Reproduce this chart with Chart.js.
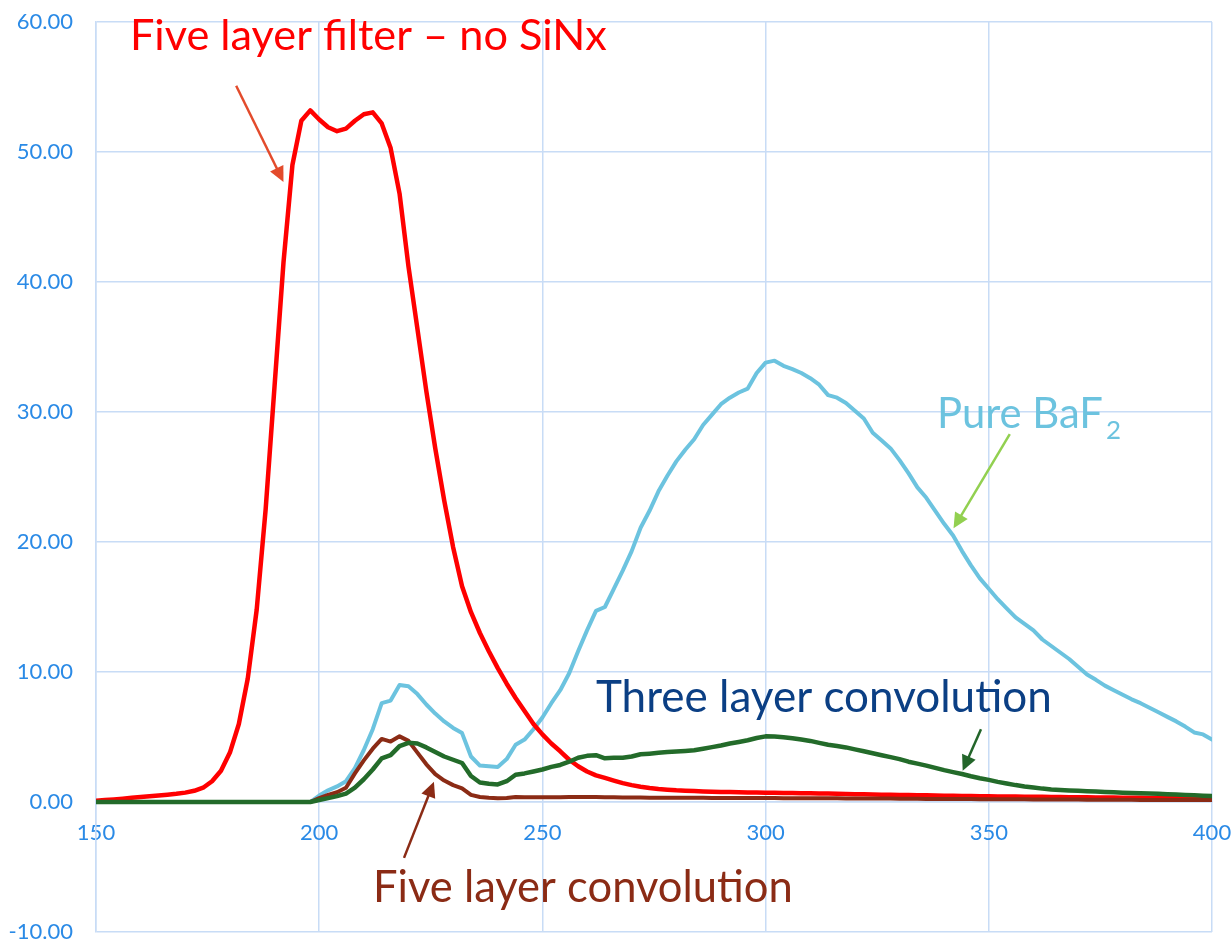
<!DOCTYPE html>
<html>
<head>
<meta charset="utf-8">
<script src="https://cdn.jsdelivr.net/npm/chart.js@4/dist/chart.umd.min.js"></script>
<style>
  html, body { margin: 0; padding: 0; background: #fff; }
  #wrap { width: 1232px; height: 943px; position: relative; }
</style>
</head>
<body>
<div id="wrap"><canvas id="grafico"></canvas></div>
<script>
// wavelength (nm), sampled every 2 nm
const wavelength = [
  150, 152, 154, 156, 158, 160, 162, 164, 166, 168, 170, 172, 174, 176, 178, 180, 182, 184, 186, 188, 190, 192, 194, 196, 198,
  200, 202, 204, 206, 208, 210, 212, 214, 216, 218, 220, 222, 224, 226, 228, 230, 232, 234, 236, 238, 240, 242, 244, 246, 248,
  250, 252, 254, 256, 258, 260, 262, 264, 266, 268, 270, 272, 274, 276, 278, 280, 282, 284, 286, 288, 290, 292, 294, 296, 298,
  300, 302, 304, 306, 308, 310, 312, 314, 316, 318, 320, 322, 324, 326, 328, 330, 332, 334, 336, 338, 340, 342, 344, 346, 348,
  350, 352, 354, 356, 358, 360, 362, 364, 366, 368, 370, 372, 374, 376, 378, 380, 382, 384, 386, 388, 390, 392, 394, 396, 398,
  400
];

// Five layer filter - no SiNx
const filtroCinco = [
  0.10, 0.15, 0.20, 0.26, 0.32, 0.38, 0.45, 0.50, 0.56, 0.63, 0.72, 0.86, 1.10, 1.60, 2.40, 3.80, 6.00, 9.50, 14.8, 22.5, 32.0, 41.5, 49.0, 52.4, 53.2,
  52.5, 51.9, 51.6, 51.8, 52.4, 52.9, 53.05, 52.2, 50.3, 46.8, 41.2, 36.4, 31.6, 27.2, 23.2, 19.6, 16.6, 14.6, 13.0, 11.6, 10.3, 9.1, 8.0, 7.0, 6.0,
  5.2, 4.5, 3.9, 3.25, 2.75, 2.35, 2.05, 1.85, 1.65, 1.45, 1.30, 1.18, 1.08, 1.00, 0.95, 0.90, 0.87, 0.84, 0.81, 0.79, 0.77, 0.76, 0.75, 0.74, 0.73,
  0.72, 0.71, 0.70, 0.69, 0.68, 0.67, 0.66, 0.65, 0.63, 0.62, 0.60, 0.59, 0.57, 0.56, 0.55, 0.54, 0.53, 0.52, 0.51, 0.50, 0.49, 0.48, 0.47, 0.46, 0.45,
  0.44, 0.43, 0.43, 0.42, 0.41, 0.40, 0.40, 0.39, 0.38, 0.37, 0.37, 0.36, 0.35, 0.35, 0.34, 0.33, 0.33, 0.32, 0.31, 0.31, 0.30, 0.30, 0.29, 0.28, 0.28,
  0.27
];

// Pure BaF2
const bafPuro = [
  0, 0, 0, 0, 0, 0, 0, 0, 0, 0, 0, 0, 0, 0, 0, 0, 0, 0, 0, 0, 0, 0, 0, 0, 0,
  0.5, 0.9, 1.2, 1.6, 2.6, 4.0, 5.6, 7.6, 7.8, 9.0, 8.9, 8.3, 7.5, 6.8, 6.2, 5.7, 5.3, 3.5, 2.8, 2.75, 2.7, 3.3, 4.4, 4.8, 5.6,
  6.5, 7.6, 8.6, 9.9, 11.6, 13.2, 14.7, 15.0, 16.4, 17.8, 19.3, 21.1, 22.4, 23.9, 25.1, 26.2, 27.1, 27.9, 29.0, 29.8, 30.6, 31.1, 31.5, 31.8, 33.0,
  33.8, 33.95, 33.55, 33.3, 33.0, 32.6, 32.1, 31.3, 31.1, 30.7, 30.1, 29.5, 28.4, 27.8, 27.2, 26.3, 25.3, 24.2, 23.4, 22.4, 21.4, 20.5, 19.3, 18.2, 17.2,
  16.4, 15.6, 14.9, 14.2, 13.7, 13.2, 12.5, 12.0, 11.5, 11.0, 10.4, 9.8, 9.4, 8.95, 8.6, 8.25, 7.9, 7.6, 7.25, 6.9, 6.55, 6.2, 5.8, 5.35, 5.2,
  4.8
];

// Five layer convolution
const convCinco = [
  0, 0, 0, 0, 0, 0, 0, 0, 0, 0, 0, 0, 0, 0, 0, 0, 0, 0, 0, 0, 0, 0, 0, 0, 0,
  0.3, 0.55, 0.75, 1.1, 2.2, 3.2, 4.1, 4.85, 4.65, 5.05, 4.7, 3.8, 2.9, 2.15, 1.65, 1.3, 1.05, 0.55, 0.38, 0.32, 0.28, 0.30, 0.38, 0.37, 0.36,
  0.36, 0.37, 0.37, 0.38, 0.38, 0.38, 0.38, 0.37, 0.36, 0.35, 0.34, 0.34, 0.33, 0.33, 0.33, 0.32, 0.32, 0.32, 0.32, 0.31, 0.31, 0.31, 0.31, 0.30, 0.30,
  0.30, 0.30, 0.29, 0.29, 0.29, 0.29, 0.28, 0.28, 0.28, 0.27, 0.27, 0.27, 0.26, 0.26, 0.26, 0.25, 0.25, 0.25, 0.24, 0.24, 0.24, 0.23, 0.23, 0.23, 0.22,
  0.22, 0.22, 0.21, 0.21, 0.21, 0.20, 0.20, 0.20, 0.19, 0.19, 0.19, 0.18, 0.18, 0.18, 0.17, 0.17, 0.17, 0.16, 0.16, 0.16, 0.16, 0.15, 0.15, 0.15, 0.15,
  0.15
];

// Three layer convolution
const convTres = [
  0, 0, 0, 0, 0, 0, 0, 0, 0, 0, 0, 0, 0, 0, 0, 0, 0, 0, 0, 0, 0, 0, 0, 0, 0,
  0.15, 0.3, 0.45, 0.65, 1.1, 1.75, 2.5, 3.35, 3.6, 4.3, 4.55, 4.5, 4.2, 3.85, 3.5, 3.25, 3.0, 2.0, 1.5, 1.4, 1.35, 1.6, 2.1, 2.2, 2.35,
  2.5, 2.7, 2.85, 3.1, 3.4, 3.55, 3.6, 3.36, 3.4, 3.4, 3.5, 3.67, 3.72, 3.78, 3.84, 3.88, 3.93, 3.98, 4.1, 4.22, 4.35, 4.5, 4.62, 4.75, 4.92,
  5.05, 5.03, 4.98, 4.9, 4.8, 4.7, 4.55, 4.4, 4.3, 4.2, 4.05, 3.9, 3.75, 3.6, 3.45, 3.3, 3.1, 2.95, 2.8, 2.62, 2.45, 2.3, 2.15, 1.98, 1.83,
  1.7, 1.55, 1.42, 1.3, 1.2, 1.12, 1.03, 0.97, 0.93, 0.89, 0.86, 0.83, 0.8, 0.77, 0.75, 0.72, 0.7, 0.68, 0.66, 0.63, 0.6, 0.57, 0.54, 0.51, 0.48,
  0.46
];

// axis ticks
const ticksX = [150, 200, 250, 300, 350, 400];
const ticksY = [-10, 0, 10, 20, 30, 40, 50, 60];

const corGrade = '#c8dcf6';
const corTicks = '#2a8ae6';
const fonte = 'Lato, "Open Sans", sans-serif';

const pontos = (valores) => wavelength.map((x, i) => ({x: x, y: valores[i]}));

// textos e setas, em coordenadas do gráfico
const rotulos = [
  {texto: 'Five layer filter \u2013 no SiNx', x: 157.6, y: 57.85, largura: 477, cor: '#ff0000'},
  {texto: 'Three layer convolution', x: 262.0, y: 6.92, largura: 456, cor: '#0b3f84'},
  {texto: 'Five layer convolution', x: 212.05, y: -7.7, largura: 420, cor: '#8b2b15'},
  {texto: 'Pure BaF', sub: '2', x: 338.4, y: 28.8, largura: 166, cor: '#6cc3df'}
];
const setas = [
  {de: [181.4, 55.1], para: [192.0, 47.7], cor: '#e34b2c'},
  {de: [354.7, 28.3], para: [342.1, 21.05], cor: '#92d050'},
  {de: [348.25, 5.6], para: [344.15, 2.4], cor: '#23652a'},
  {de: [219.0, -4.3], para: [225.7, 1.55], cor: '#8b2b15'}
];

function tamanhoFonte(ctx, texto, largura) {
  ctx.font = '40px ' + fonte;
  return 40 * largura / ctx.measureText(texto).width;
}

// sem folga extra para os rótulos; a margem vem só do layout.padding
function semFolga(scale) {
  scale.paddingTop = 0;
  scale.paddingBottom = 0;
  scale.paddingLeft = 0;
  scale.paddingRight = 0;
}

const anotacoes = {
  id: 'anotacoes',
  afterDatasetsDraw(chart) {
    const ctx = chart.ctx;
    const sx = chart.scales.x;
    const sy = chart.scales.y;
    ctx.save();
    for (let s of setas) {
      const x1 = sx.getPixelForValue(s.de[0]), y1 = sy.getPixelForValue(s.de[1]);
      const x2 = sx.getPixelForValue(s.para[0]), y2 = sy.getPixelForValue(s.para[1]);
      const ang = Math.atan2(y2 - y1, x2 - x1);
      const cab = 17;
      ctx.strokeStyle = s.cor;
      ctx.fillStyle = s.cor;
      ctx.lineWidth = 2.5;
      ctx.beginPath();
      ctx.moveTo(x1, y1);
      ctx.lineTo(x2 - Math.cos(ang) * cab * 0.8, y2 - Math.sin(ang) * cab * 0.8);
      ctx.stroke();
      ctx.beginPath();
      ctx.moveTo(x2, y2);
      ctx.lineTo(x2 - cab * Math.cos(ang - 0.45), y2 - cab * Math.sin(ang - 0.45));
      ctx.lineTo(x2 - cab * Math.cos(ang + 0.45), y2 - cab * Math.sin(ang + 0.45));
      ctx.closePath();
      ctx.fill();
    }
    ctx.textAlign = 'left';
    ctx.textBaseline = 'alphabetic';
    for (let r of rotulos) {
      const px = sx.getPixelForValue(r.x);
      const py = sy.getPixelForValue(r.y);
      const tam = tamanhoFonte(ctx, r.texto, r.largura);
      ctx.font = tam + 'px ' + fonte;
      ctx.fillStyle = r.cor;
      ctx.fillText(r.texto, px, py);
      if (r.sub) {
        const w = ctx.measureText(r.texto).width;
        ctx.font = (tam * 0.62) + 'px ' + fonte;
        ctx.fillText(r.sub, px + w + 3, py + 11);
      }
    }
    ctx.restore();
  }
};

const ctxGrafico = document.getElementById('grafico').getContext('2d');
const grafico = new Chart(ctxGrafico, {
  type: 'line',
  data: {
    datasets: [
      {label: 'Three layer convolution', data: pontos(convTres), borderColor: '#236b2a', borderWidth: 4.5, order: 0},
      {label: 'Five layer convolution', data: pontos(convCinco), borderColor: '#8b2b15', borderWidth: 4, order: 1},
      {label: 'Five layer filter - no SiNx', data: pontos(filtroCinco), borderColor: '#ff0000', borderWidth: 4.5, order: 2},
      {label: 'Pure BaF2', data: pontos(bafPuro), borderColor: '#6cc3df', borderWidth: 4, order: 3}
    ]
  },
  options: {
    responsive: true,
    maintainAspectRatio: false,
    animation: false,
    elements: {
      point: {radius: 0},
      line: {tension: 0, borderJoinStyle: 'round', borderCapStyle: 'round'}
    },
    layout: {padding: {top: 22, right: 20, bottom: 11, left: 0}},
    plugins: {
      legend: {display: false},
      tooltip: {enabled: false}
    },
    scales: {
      x: {
        type: 'linear',
        position: {y: 0},
        min: 150,
        max: 400,
        afterBuildTicks: (scale) => { scale.ticks = ticksX.map(v => ({value: v})); },
        afterFit: semFolga,
        grid: {color: corGrade, lineWidth: 1.5, drawTicks: false},
        border: {color: corGrade, width: 1.5},
        ticks: {color: corTicks, font: {family: fonte, size: 22}, padding: 18, maxRotation: 0}
      },
      y: {
        min: -10,
        max: 60,
        afterBuildTicks: (scale) => { scale.ticks = ticksY.map(v => ({value: v})); },
        afterFit: (scale) => { semFolga(scale); scale.width = 96; },
        grid: {color: corGrade, lineWidth: 1.5, drawTicks: false},
        border: {color: corGrade, width: 1.5},
        ticks: {color: corTicks, font: {family: fonte, size: 22}, padding: 23, callback: (v) => v.toFixed(2)}
      }
    }
  },
  plugins: [anotacoes]
});
</script>
</body>
</html>
